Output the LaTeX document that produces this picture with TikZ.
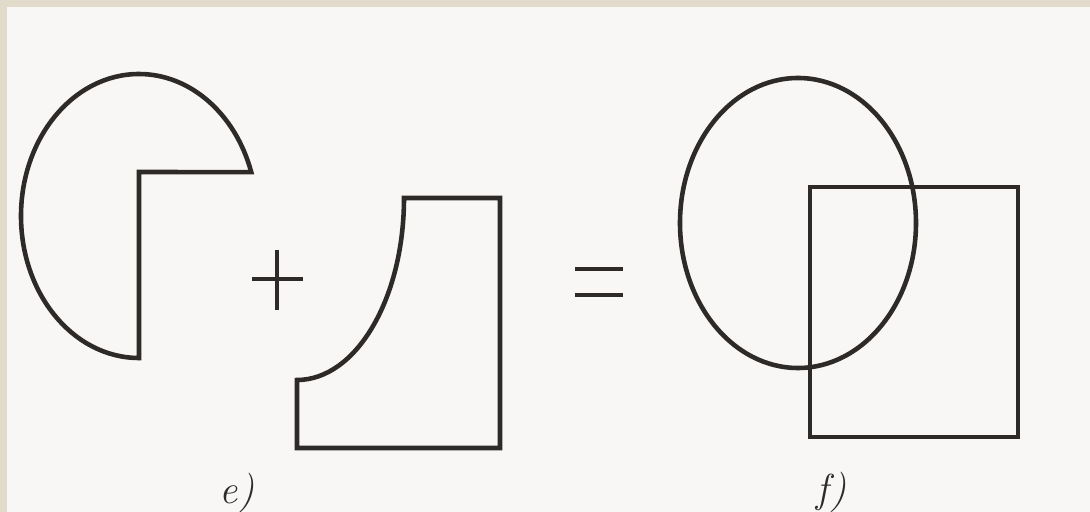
\documentclass[tikz,border=0pt]{standalone}
\usetikzlibrary{positioning}

\definecolor{paperedge}{RGB}{226,218,203}
\definecolor{paper}{RGB}{248,247,245}
\definecolor{ink}{RGB}{45,42,40}

\tikzset{
  shapeline/.style={draw=ink, line width=1.3pt, line join=miter},
  signline/.style={draw=ink, line width=1.4pt},
  caption/.style={font=\fontsize{11.5}{14}\selectfont\itshape, text=ink, inner sep=0pt}
}

\begin{document}
\begin{tikzpicture}[x=0.01cm, y=0.01cm]
	% Page and scan edge:
	\fill[paperedge] (0,0) rectangle (1090,512);
	\fill[paper] (7,0) rectangle (1090,505);
	\useasboundingbox (0,0) rectangle (1090,512);
	% e) circle with the corner cut out, plus, square with the arc cut out:
	\draw[shapeline] (139,154) arc[start angle=270, end angle=18, x radius=118, y radius=142] -- (139,340) -- cycle;
	\draw[signline] (252,233) -- (303,233);
	\draw[signline] (277,262) -- (277,202);
	\draw[shapeline] (404,314) -- (500,314) -- (500,64) -- (297,64) -- (297,132) arc[start angle=270, end angle=360, x radius=107, y radius=182] -- cycle;
	% equals:
	\draw[signline] (575,243) -- (623,243);
	\draw[signline] (575,217) -- (623,217);
	% f) circle and square overlapping:
	\draw[shapeline] (798,289) ellipse[x radius=118, y radius=145];
	\draw[shapeline] (810,75) rectangle (1018,325);
	% Labels:
	\node[caption] (labele) at (237,19) {e)};
	\node[caption] (labelf) at (832,20) {f)};
\end{tikzpicture}
\end{document}
